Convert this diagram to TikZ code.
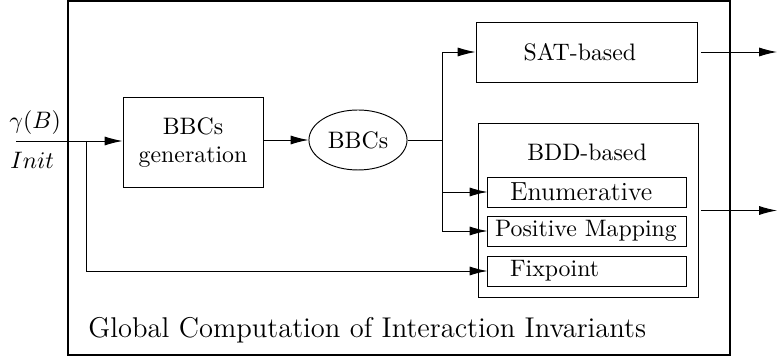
\documentclass[tikz,border=0pt]{standalone}
\usetikzlibrary{shapes.geometric,arrows.meta}
\begin{document}
\begin{tikzpicture}[x=0.42pt,y=-0.42pt]
    \tikzstyle{block}=[draw, inner sep=0pt, align=center]
    \tikzstyle{method}=[draw, inner xsep=3pt, inner ysep=1pt, text width=77.2pt, minimum height=12.6pt, align=left]
    \tikzstyle{flow}=[-{Latex[length=7.5pt,width=3.8pt]}]

    \useasboundingbox (0,0) rectangle (778,360);

    % Draw outer frame and its title
    \node[draw, line width=0.5pt, minimum width=278pt, minimum height=148.7pt, inner sep=0pt] (frame) at (399,178) {};
    \node[anchor=base west, font=\large, inner sep=0pt] (title) at (88,338) {Global Computation of Interaction Invariants};

    % Inputs
    \node[anchor=west, inner sep=0pt] (gamma) at (9,123) {$\gamma(B)$};
    \node[anchor=west, inner sep=0pt] (init) at (10,160) {$Init$};
    \coordinate (in) at (16,141);
    \coordinate (split) at (86,141);
    \coordinate (turn) at (86,271);
    \coordinate (fork) at (442,140);
    \coordinate (out) at (777,0);

    % Add blocks
    \node[block, minimum width=58.8pt, minimum height=38.2pt] (gen) at (193,142.5) {BBCs\\generation};
    \node[ellipse, draw, inner sep=0pt, minimum width=41.2pt, minimum height=25.2pt] (bbcs) at (358,140) {BBCs};
    \node[block, minimum width=93.2pt, minimum height=25.2pt] (sat) at (587,52) {SAT-based\hspace{6pt}};
    \node[block, minimum width=92.4pt, minimum height=72.7pt] (bdd) at (588,210.5) {};
    \node (bddlabel) at (587,152) {BDD-based};

    % Add the BDD methods
    \node[method] (enum) at (587,192) {\hspace{6.3pt}\fontsize{11}{13}\selectfont Enumerative};
    \node[method] (pos) at (587,231) {Positive Mapping};
    \node[method] (fix) at (587,271) {\hspace{6.3pt}Fixpoint};

    % Draw connectors
    \draw[flow] (in) -- (in -| gen.west);
    \draw (split) -- (turn);
    \draw[flow] (turn) -- (fix.west);
    \draw[flow] (gen.east |- bbcs) -- (bbcs.west);
    \draw (bbcs.east) -- (fork);
    \draw[flow] (fork) |- (sat.west);
    \draw[flow] (fork) |- (enum.west);
    \draw[flow] (fork) |- (pos.west);
    \draw[flow] ([xshift=1pt]sat.east) -- (sat.east -| out);
    \draw[flow] ([xshift=1pt]bdd.east) -- (bdd.east -| out);
\end{tikzpicture}
\end{document}
